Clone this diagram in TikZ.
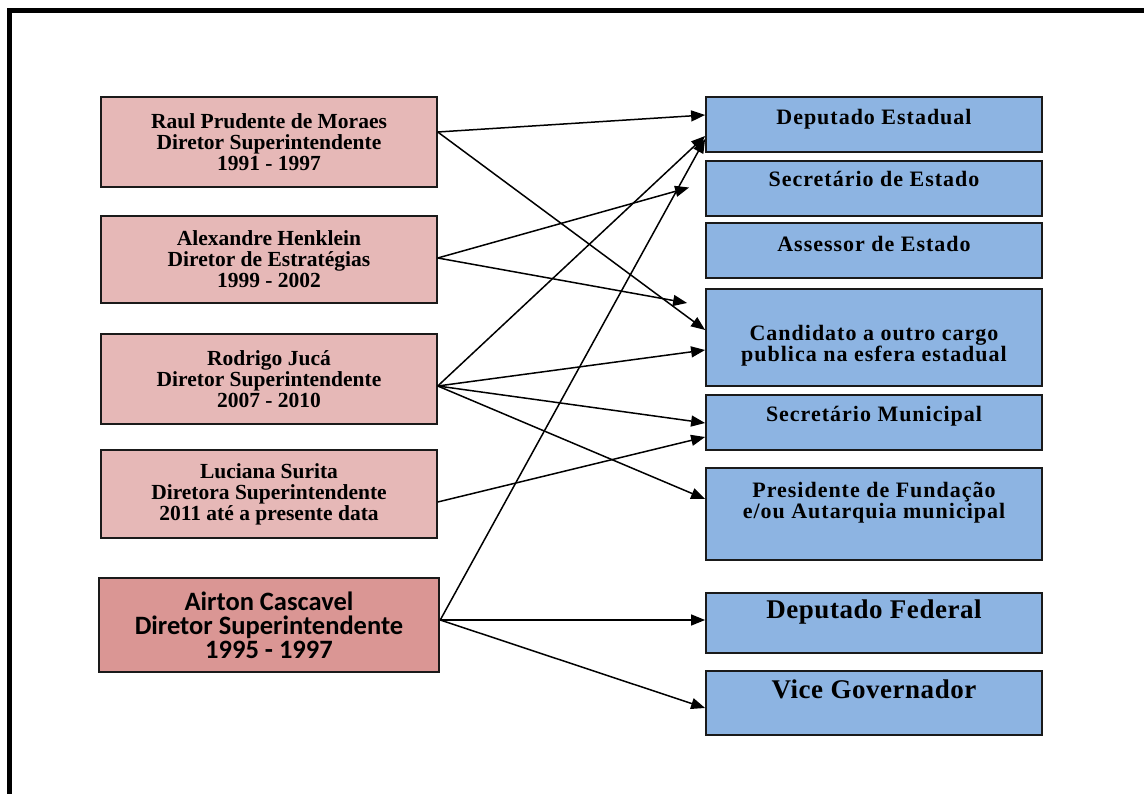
\documentclass[tikz,border=0pt]{standalone}
\usepackage{fontspec}
\setmainfont{Liberation Serif}
\newfontfamily\boxsans{Carlito}
\usetikzlibrary{arrows.meta,calc}

\definecolor{pinkfill}{HTML}{E6B8B7}
\definecolor{rosefill}{HTML}{DA9694}
\definecolor{bluefill}{HTML}{8DB4E2}
\definecolor{edge}{HTML}{1A1A1A}

\begin{document}
\begin{tikzpicture}[x=1pt,y=-1pt,
  person/.style={draw=edge, line width=1.5pt, fill=pinkfill, minimum width=336pt,
    align=center, inner sep=0pt, font=\fontsize{21.5}{21}\selectfont\bfseries},
  office/.style={draw=edge, line width=1.8pt, fill=bluefill, minimum width=336pt, inner sep=0pt},
  officetext/.style={align=center, inner sep=0pt,
    font=\fontsize{22}{21}\selectfont\bfseries\addfontfeatures{LetterSpace=4.5}},
  officebig/.style={align=center, inner sep=0pt,
    font=\fontsize{27}{27}\selectfont\bfseries\addfontfeatures{LetterSpace=2}},
  link/.style={line width=1.5pt, draw=black, -{Triangle[length=14pt,width=11pt]}}
]
\useasboundingbox (0,0) rectangle (1144,794);

% outer frame (left and top edges)
\draw[line width=5pt, line join=miter] (9.5,794) -- (9.5,10.5) -- (1144,10.5);

% directors
\node[person, minimum height=90pt] (r1) at (269,142)
  {Raul Prudente de Moraes\\Diretor Superintendente\\1991 - 1997};
\node[person, minimum height=87pt] (r2) at (269,259.5)
  {Alexandre Henklein\\Diretor de Estratégias\\1999 - 2002};
\node[person, minimum height=90pt] (r3) at (269,379)
  {Rodrigo Jucá\\Diretor Superintendente\\2007 - 2010};
\node[person, minimum height=88pt] (r4) at (269,494)
  {Luciana Surita\\Diretora Superintendente\\2011 até a presente data};
\node[person, fill=rosefill, line width=2.5pt, minimum width=340pt, minimum height=94pt,
  font=\fontsize{26.5}{24}\selectfont\boxsans\bfseries] (r5) at (269,625)
  {Airton Cascavel\\Diretor Superintendente\\1995 - 1997};

% offices
\node[office, minimum height=55pt] (t1) at (874,124.5) {};
\node[office, minimum height=55pt] (t2) at (874,188.5) {};
\node[office, minimum height=55pt] (t3) at (874,250.5) {};
\node[office, minimum height=97pt] (t4) at (874,337.5) {};
\node[office, minimum height=55pt] (t5) at (874,422.5) {};
\node[office, minimum height=92pt] (t6) at (874,514) {};
\node[office, minimum height=60pt] (t7) at (874,623) {};
\node[office, minimum height=64pt] (t8) at (874,703) {};

\node[officetext, anchor=base] (t1l) at (874,125) {Deputado Estadual};
\node[officetext, anchor=base] (t2l) at (874,187) {Secretário de Estado};
\node[officetext, anchor=base] (t3l) at (874,252) {Assessor de Estado};
\node[officetext, anchor=north] (t4l) at (874,325) {Candidato a outro cargo\\publica na esfera estadual};
\node[officetext, anchor=base] (t5l) at (874,421) {Secretário Municipal};
\node[officetext, anchor=north] (t6l) at (874,481.5) {Presidente de Fundação\\e/ou Autarquia municipal};
\node[officebig, anchor=base] (t7l) at (874,618) {Deputado Federal};
\node[officebig, anchor=base] (t8l) at (874,698) {Vice Governador};

% start points on the directors' right edges
\coordinate (s1) at ($(r1.east)+(0,-10)$);
\coordinate (s2) at ($(r2.east)+(0,-1.5)$);
\coordinate (s3) at ($(r3.east)+(0,7)$);
\coordinate (s4) at ($(r4.east)+(0,8)$);
\coordinate (s5) at ($(r5.east)+(0,-5)$);

% free ends that stop short of their boxes
\coordinate (e2a) at ($(t2.west)+(-16,-1)$);
\coordinate (e2b) at ($(t4.west)+(-18,-34.5)$);

\draw[link] (s1) -- ($(t1.west)+(0,-9.5)$);
\draw[link] (s1) -- ($(t4.west)+(0,-7.5)$);

\draw[link] (s2) -- (e2a);
\draw[link] (s2) -- (e2b);

\draw[link] (s3) -- ($(t1.west)+(0,11.5)$);
\draw[link] (s3) -- ($(t4.west)+(0,12.5)$);
\draw[link] (s3) -- ($(t5.west)+(0,0.5)$);
\draw[link] (s3) -- ($(t6.west)+(0,-15)$);

\draw[link] (s4) -- ($(t5.west)+(0,14.5)$);

\draw[link] (s5) -- ($(t1.west)+(0,14.5)$);
\draw[link] (s5) -- ($(t7.west)+(0,-3)$);
\draw[link] (s5) -- ($(t8.west)+(0,5)$);
\end{tikzpicture}
\end{document}
